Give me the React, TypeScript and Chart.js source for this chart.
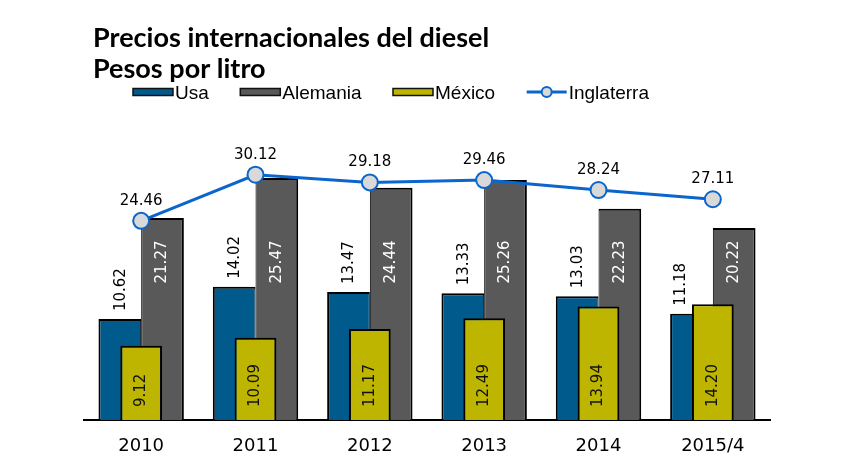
import React, { useEffect, useRef } from "react";
import { Chart, registerables } from "chart.js";

Chart.register(...registerables);

// Diesel prices, pesos per litre
const years = ["2010", "2011", "2012", "2013", "2014", "2015/4"];
const usa = [10.62, 14.02, 13.47, 13.33, 13.03, 11.18];
const alemania = [21.27, 25.47, 24.44, 25.26, 22.23, 20.22];
const mexico = [9.12, 10.09, 11.17, 12.49, 13.94, 14.2];
const inglaterra = [24.46, 30.12, 29.18, 29.46, 28.24, 27.11];

const titleLines = ["Precios internacionales del diesel", "Pesos por litro"];

const COLOR_USA = "#005A8C";
const COLOR_ALEMANIA = "#595959";
const COLOR_MEXICO = "#BDB500";
const COLOR_LINE = "#0A66CC";
const COLOR_POINT = "#D9D9D9";

const LABEL_FONT = "15px 'DejaVu Sans'";
const TICK_FONT_FAMILY = "DejaVu Sans";
const LEGEND_FONT = "19px 'Liberation Sans'";
const TITLE_FONT = "bold 27px Lato";

// Two-line heading in the top-left corner
const titlePlugin = {
  id: "titleBlock",
  afterDraw(chart: any) {
    const ctx = chart.ctx;
    ctx.save();
    ctx.fillStyle = "#000";
    ctx.font = TITLE_FONT;
    ctx.textAlign = "left";
    ctx.textBaseline = "alphabetic";
    ctx.fillText(titleLines[0], 93, 47, 400);
    ctx.fillText(titleLines[1], 93, 78, 174);
    ctx.restore();
  },
};

// Legend row: wide flat swatches with the label right next to them
const legendPlugin = {
  id: "legendRow",
  afterDraw(chart: any) {
    const ctx = chart.ctx;
    ctx.save();
    ctx.font = LEGEND_FONT;
    ctx.textAlign = "left";
    ctx.textBaseline = "alphabetic";
    let x = 133;
    const cy = 92;
    const sw = 40;
    chart.data.datasets.forEach((ds: any) => {
      if (ds.type === "line") {
        ctx.strokeStyle = ds.borderColor;
        ctx.lineWidth = 3;
        ctx.beginPath();
        ctx.moveTo(x, cy);
        ctx.lineTo(x + sw, cy);
        ctx.stroke();
        ctx.beginPath();
        ctx.arc(x + sw / 2, cy, 5, 0, Math.PI * 2);
        ctx.fillStyle = ds.pointBackgroundColor;
        ctx.fill();
        ctx.lineWidth = 2;
        ctx.stroke();
      } else {
        ctx.fillStyle = ds.backgroundColor;
        ctx.fillRect(x, cy - 3.5, sw, 7);
        ctx.strokeStyle = "#111";
        ctx.lineWidth = 1.5;
        ctx.strokeRect(x, cy - 3.5, sw, 7);
      }
      ctx.fillStyle = "#000";
      ctx.fillText(ds.label, x + sw + 2, cy + 7);
      x += sw + 2 + ctx.measureText(ds.label).width + 31.5;
    });
    ctx.restore();
  },
};

// Value labels for bars and points
const valueLabelPlugin = {
  id: "valueLabels",
  afterDatasetsDraw(chart: any) {
    const ctx = chart.ctx;
    const area = chart.chartArea;
    ctx.save();
    ctx.font = LABEL_FONT;
    chart.data.datasets.forEach((ds: any, di: number) => {
      const meta = chart.getDatasetMeta(di);
      meta.data.forEach((el: any, i: number) => {
        const text = Number(ds.data[i]).toFixed(2);
        ctx.fillStyle = ds.labelColor;
        if (ds.labelMode === "above") {
          ctx.textAlign = "center";
          ctx.textBaseline = "alphabetic";
          ctx.fillText(text, el.x, el.y - 16);
          return;
        }
        ctx.save();
        ctx.textBaseline = "middle";
        if (ds.labelMode === "outsideEnd") {
          // keep the label clear of a front bar that rises past its foot
          let lx = el.x + 1;
          const labelFoot = el.y - 8;
          chart.data.datasets.forEach((other: any, oi: number) => {
            if (other.type !== "bar" || other.order >= ds.order) return;
            const front = chart.getDatasetMeta(oi).data[i];
            if (!front) return;
            const frontLeft = front.x - front.width / 2;
            if (front.y < labelFoot && frontLeft < lx + 8) {
              lx = (el.x - el.width / 2 + frontLeft) / 2;
            }
          });
          ctx.translate(lx, labelFoot);
          ctx.rotate(-Math.PI / 2);
          ctx.textAlign = "left";
        } else if (ds.labelMode === "insideBase") {
          ctx.translate(el.x, el.base - 13);
          ctx.rotate(-Math.PI / 2);
          ctx.textAlign = "left";
        } else {
          ctx.translate(el.x, area.top + 127);
          ctx.rotate(-Math.PI / 2);
          ctx.textAlign = "center";
        }
        ctx.fillText(text, 0, 0);
        ctx.restore();
      });
    });
    ctx.restore();
  },
};

export default function App() {
  const canvasRef = useRef<HTMLCanvasElement | null>(null);

  useEffect(() => {
    if (!canvasRef.current) return;
    const chart = new Chart(canvasRef.current, {
      data: {
        labels: years,
        datasets: [
          {
            type: "bar",
            label: "Usa",
            data: usa,
            yAxisID: "y",
            backgroundColor: COLOR_USA,
            borderColor: "#000",
            borderWidth: { top: 2, left: 2, right: 1, bottom: 0 },
            categoryPercentage: 0.747,
            barPercentage: 1,
            order: 3,
            labelMode: "outsideEnd",
            labelColor: "#000",
          } as any,
          {
            type: "bar",
            label: "Alemania",
            data: alemania,
            yAxisID: "y",
            backgroundColor: COLOR_ALEMANIA,
            borderColor: "#000",
            borderWidth: { top: 2, left: 1, right: 2, bottom: 0 },
            categoryPercentage: 0.747,
            barPercentage: 1,
            order: 3,
            labelMode: "insideFixed",
            labelColor: "#fff",
          } as any,
          {
            type: "bar",
            label: "México",
            data: mexico,
            yAxisID: "y1",
            grouped: false,
            backgroundColor: COLOR_MEXICO,
            borderColor: "#000",
            borderWidth: 2,
            categoryPercentage: 0.365,
            barPercentage: 1,
            order: 2,
            labelMode: "insideBase",
            labelColor: "#111",
          } as any,
          {
            type: "line",
            label: "Inglaterra",
            data: inglaterra,
            yAxisID: "y1",
            borderColor: COLOR_LINE,
            borderWidth: 3,
            pointBackgroundColor: COLOR_POINT,
            pointBorderColor: COLOR_LINE,
            pointBorderWidth: 2,
            pointRadius: 8,
            tension: 0,
            fill: false,
            order: 1,
            labelMode: "above",
            labelColor: "#000",
          } as any,
        ],
      },
      options: {
        responsive: false,
        animation: false,
        events: [],
        layout: { padding: { left: 84, right: 84, top: 135, bottom: 0 } },
        plugins: {
          legend: { display: false },
          title: { display: false },
          tooltip: { enabled: false },
        },
        scales: {
          x: {
            type: "category",
            offset: true,
            grid: { display: false, drawTicks: false },
            border: { display: true, color: "#000", width: 2 },
            ticks: {
              color: "#000",
              padding: 16,
              font: { family: TICK_FONT_FAMILY, size: 18 },
              maxRotation: 0,
            },
            afterFit(scale: any) {
              scale.height = 40;
            },
          },
          y: { display: false, min: 0, max: 30 },
          y1: { display: false, min: 0, max: 35 },
        },
      } as any,
      plugins: [titlePlugin, legendPlugin, valueLabelPlugin],
    });

    const fonts = [TITLE_FONT, LEGEND_FONT, LABEL_FONT, `18px '${TICK_FONT_FAMILY}'`];
    Promise.all(fonts.map((f) => document.fonts.load(f)))
      .then(() => chart.update())
      .catch(() => undefined);

    return () => chart.destroy();
  }, []);

  return (
    <div style={{ position: "fixed", left: 0, top: 0, width: 854, height: 460, background: "#fff" }}>
      <canvas ref={canvasRef} width={854} height={460} style={{ display: "block" }} />
    </div>
  );
}
